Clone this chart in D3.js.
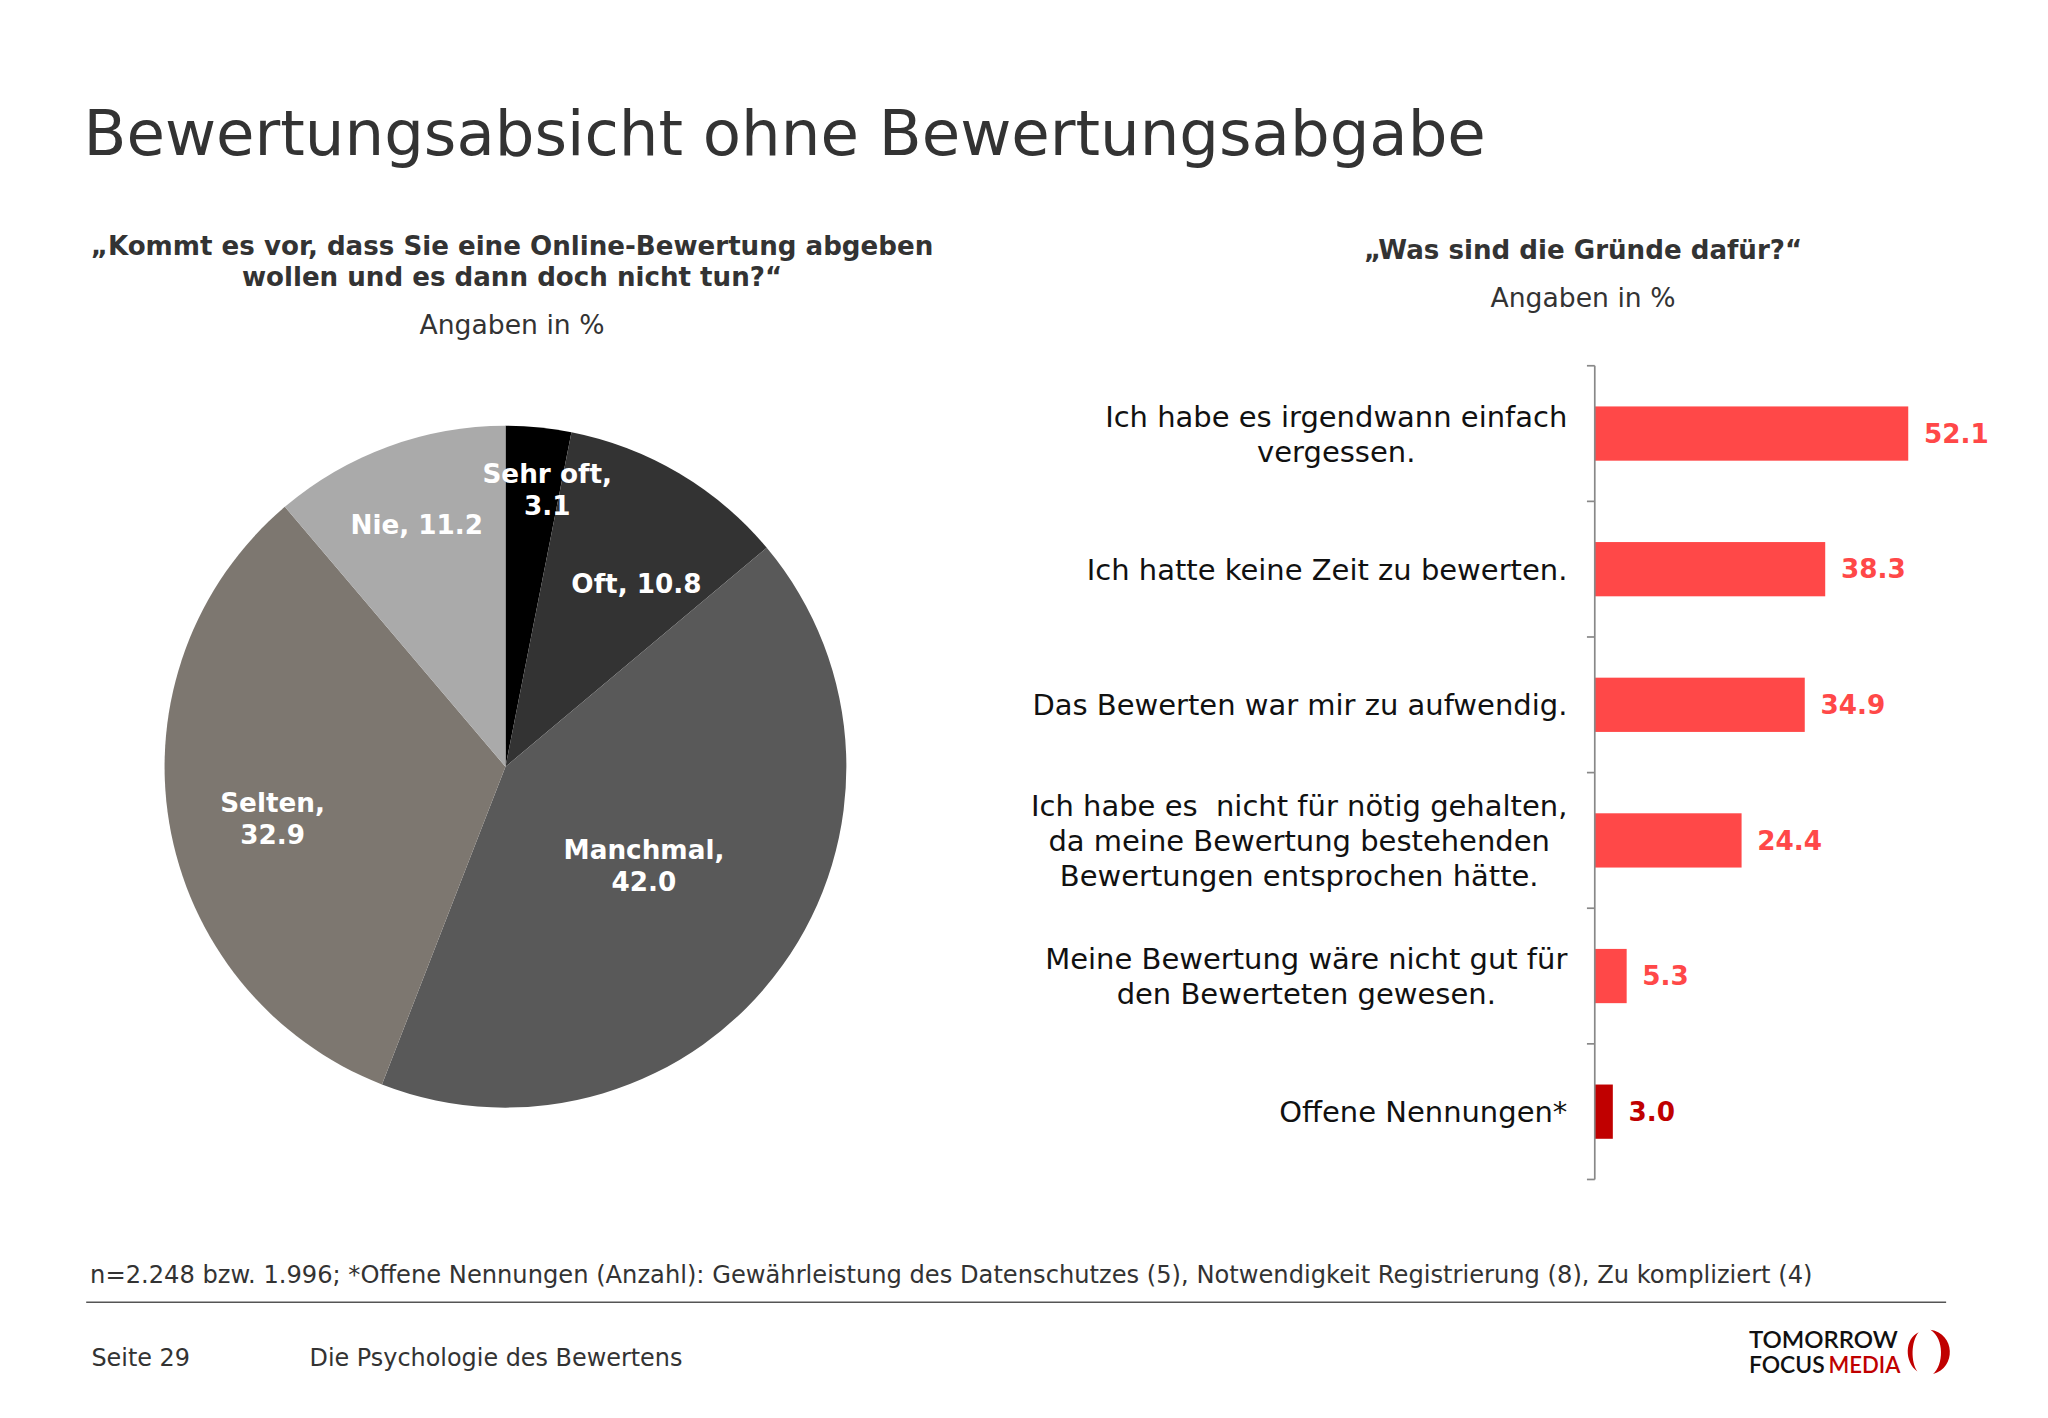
<!DOCTYPE html>
<html><head><meta charset="utf-8">
<script src="https://cdn.jsdelivr.net/npm/d3@7/dist/d3.min.js"></script>
<style>html,body{margin:0;padding:0;background:#fff;}svg{display:block;}</style>
</head><body>
<svg id="chart" width="2048" height="1418"></svg>
<script>
// ---------- data ----------
const pieCategories = ["Sehr oft", "Oft", "Manchmal", "Selten", "Nie"];
const pieValues = [3.1, 10.8, 42.0, 32.9, 11.2];
const pieColors = ["#000000", "#333333", "#595959", "#7d7770", "#aaaaaa"];

const barCategories = [
  "Ich habe es irgendwann einfach\nvergessen.",
  "Ich hatte keine Zeit zu bewerten.",
  "Das Bewerten war mir zu aufwendig.",
  "Ich habe es  nicht für nötig gehalten,\nda meine Bewertung bestehenden\nBewertungen entsprochen hätte.",
  "Meine Bewertung wäre nicht gut für\nden Bewerteten gewesen.",
  "Offene Nennungen*"
];
const barValues = [52.1, 38.3, 34.9, 24.4, 5.3, 3.0];
const barColors = ["#ff4848", "#ff4848", "#ff4848", "#ff4848", "#ff4848", "#c00000"];

const titleText = "Bewertungsabsicht ohne Bewertungsabgabe";
const leftQuestion = ["„Kommt es vor, dass Sie eine Online-Bewertung abgeben", "wollen und es dann doch nicht tun?“"];
const rightQuestion = ["„Was sind die Gründe dafür?“"];
const unitText = "Angaben in %";
const footnoteText = "n=2.248 bzw. 1.996; *Offene Nennungen (Anzahl): Gewährleistung des Datenschutzes (5), Notwendigkeit Registrierung (8), Zu kompliziert (4)";
const pageText = "Seite 29";
const docText = "Die Psychologie des Bewertens";

// ---------- layout ----------
const W = 1568, H = 1085.6;
const svg = d3.select("#chart").attr("viewBox", `0 0 ${W} ${H}`);
const FONT = "Verdana, 'DejaVu Sans', sans-serif";

svg.append("text").attr("x", 64).attr("y", 119)
  .attr("font-family", FONT).attr("font-size", 47.9).attr("fill", "#333")
  .text(titleText);

// left heading
leftQuestion.forEach((t, i) => {
  svg.append("text").attr("x", 392).attr("y", 195 + i * 24)
    .attr("text-anchor", "middle").attr("font-family", FONT).attr("font-weight", "bold")
    .attr("font-size", 20).attr("fill", "#333").text(t);
});
svg.append("text").attr("x", 392).attr("y", 256).attr("text-anchor", "middle")
  .attr("font-family", FONT).attr("font-size", 20.4).attr("fill", "#333").text(unitText);

// right heading
rightQuestion.forEach((t, i) => {
  svg.append("text").attr("x", 1212).attr("y", 198 + i * 24)
    .attr("text-anchor", "middle").attr("font-family", FONT).attr("font-weight", "bold")
    .attr("font-size", 20).attr("fill", "#333").text(t);
});
svg.append("text").attr("x", 1212).attr("y", 235).attr("text-anchor", "middle")
  .attr("font-family", FONT).attr("font-size", 20.4).attr("fill", "#333").text(unitText);

// ---------- pie ----------
const cx = 387, cy = 587, R = 261;
const pieData = pieCategories.map((c, i) => ({cat: c, value: pieValues[i], color: pieColors[i]}));
const pie = d3.pie().value(d => d.value).sort(null);
const arcs = pie(pieData);
const arc = d3.arc().innerRadius(0).outerRadius(R);
const gPie = svg.append("g").attr("transform", `translate(${cx},${cy})`);
gPie.selectAll("path").data(arcs).join("path")
  .attr("d", arc).attr("fill", d => d.data.color);

// label placement: radius fraction + angular nudge (degrees) per slice
const labelRadius = {"Sehr oft": 0.82, "Oft": 0.66, "Manchmal": 0.5, "Selten": 0.7, "Nie": 0.755};
const labelNudge = {"Sehr oft": 3, "Oft": 5, "Manchmal": 0, "Selten": -3, "Nie": 0};
const twoLine = {"Sehr oft": true, "Oft": false, "Manchmal": true, "Selten": true, "Nie": false};
arcs.forEach(d => {
  const mid = (d.startAngle + d.endAngle) / 2 + labelNudge[d.data.cat] * Math.PI / 180;
  const r = R * labelRadius[d.data.cat];
  const lx = r * Math.sin(mid), ly = -r * Math.cos(mid);
  const v = d3.format(".1f")(d.data.value);
  const lines = twoLine[d.data.cat] ? [d.data.cat + ",", v] : [d.data.cat + ", " + v];
  const t = gPie.append("text").attr("text-anchor", "middle")
    .attr("font-family", FONT).attr("font-weight", "bold").attr("font-size", 20.1)
    .attr("fill", "#fff");
  lines.forEach((ln, i) => {
    t.append("tspan").attr("x", lx).attr("y", ly + (i - (lines.length - 1) / 2) * 24.5 + 7).text(ln);
  });
});

// ---------- bars ----------
const axisX = 1221, yTop = 280, yBottom = 903;
const y = d3.scaleBand().domain(barCategories).range([yTop, yBottom]).paddingInner(0.6).paddingOuter(0.3);
const x = d3.scaleLinear().domain([0, 52.1]).range([axisX, 1461]);
const gBar = svg.append("g");

gBar.selectAll("rect").data(barValues).join("rect")
  .attr("x", x(0)).attr("y", (d, i) => y(barCategories[i]))
  .attr("width", d => x(d) - x(0)).attr("height", y.bandwidth())
  .attr("fill", (d, i) => barColors[i]);

// axis line + boundary ticks
gBar.append("line").attr("x1", axisX).attr("x2", axisX).attr("y1", yTop).attr("y2", yBottom)
  .attr("stroke", "#888").attr("stroke-width", 1.3);
const bnd = barCategories.map(c => y(c) - y.step() * y.paddingInner() / 2);
bnd.push(yBottom);
gBar.selectAll("line.tick").data(bnd).join("line").attr("class", "tick")
  .attr("x1", axisX - 6).attr("x2", axisX).attr("y1", d => d).attr("y2", d => d)
  .attr("stroke", "#888").attr("stroke-width", 1.3);

// value labels
gBar.selectAll("text.val").data(barValues).join("text").attr("class", "val")
  .attr("x", d => x(d) + 12).attr("y", (d, i) => y(barCategories[i]) + y.bandwidth() / 2 + 7)
  .attr("font-family", FONT).attr("font-weight", "bold").attr("font-size", 20.1)
  .attr("fill", (d, i) => barColors[i])
  .text(d => d3.format(".1f")(d));

// category labels (centered block, right-aligned to 1200)
barCategories.forEach((c, i) => {
  const lines = c.split("\n");
  const cyB = y(c) + y.bandwidth() / 2;
  const t = gBar.append("text").attr("font-family", FONT).attr("font-size", 22.2)
    .attr("fill", "#111").attr("text-anchor", "middle").attr("xml:space", "preserve")
    .style("white-space", "pre");
  const spans = lines.map((ln, k) => t.append("tspan").attr("y", cyB + (k - (lines.length - 1) / 2) * 26.8 + 8).text(ln));
  let maxW = 0;
  spans.forEach(s => { maxW = Math.max(maxW, s.node().getComputedTextLength()); });
  spans.forEach(s => s.attr("x", 1200 - maxW / 2));
});

// ---------- footer ----------
svg.append("text").attr("x", 69).attr("y", 982).attr("font-family", FONT).attr("font-size", 18.5)
  .attr("fill", "#333").text(footnoteText);
svg.append("line").attr("x1", 66).attr("x2", 1490).attr("y1", 997).attr("y2", 997)
  .attr("stroke", "#555").attr("stroke-width", 1.2);
svg.append("text").attr("x", 70).attr("y", 1046).attr("font-family", FONT).attr("font-size", 18.3)
  .attr("fill", "#333").text(pageText);
svg.append("text").attr("x", 237).attr("y", 1046).attr("font-family", FONT).attr("font-size", 18.3)
  .attr("fill", "#333").text(docText);

// logo (one text element, two lines)
const LF = "Lato, 'Open Sans', sans-serif";
const logo = svg.append("text").attr("font-family", LF).attr("font-weight", 600)
  .attr("font-size", 18).attr("fill", "#111");
logo.append("tspan").attr("x", 1339).attr("y", 1032)
  .attr("textLength", 114).attr("lengthAdjust", "spacingAndGlyphs").text("TOMORROW");
logo.append("tspan").attr("x", 1339).attr("y", 1051)
  .attr("textLength", 58).attr("lengthAdjust", "spacingAndGlyphs").text("FOCUS");
logo.append("tspan").attr("x", 1400).attr("y", 1051).attr("fill", "#c00000")
  .attr("textLength", 55).attr("lengthAdjust", "spacingAndGlyphs").text("MEDIA");
const lg = svg.append("g").attr("transform", "translate(1477,1035)");
lg.append("path").attr("fill", "#c00000")
  .attr("d", "M -8,-15 C -19,-10 -19,8 -9,15 C -14,8 -14,-8 -8,-15 Z");
lg.append("path").attr("fill", "#c00000")
  .attr("d", "M 1,-17 C 20,-14 21,12 3,17 C 11,10 12,-10 1,-17 Z");
</script>
</body></html>
